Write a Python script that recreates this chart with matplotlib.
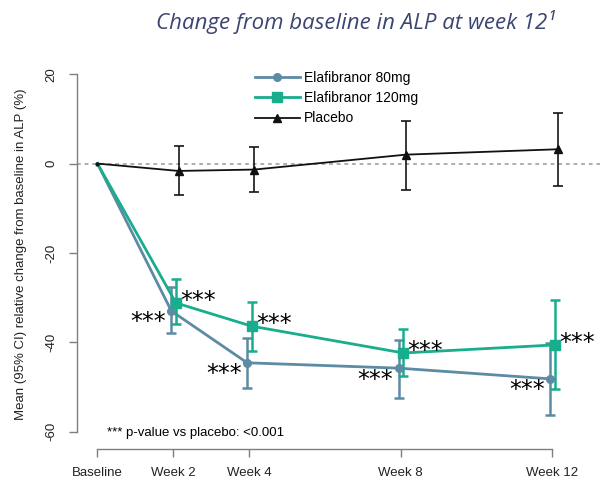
import numpy as np
import matplotlib
import matplotlib.pyplot as plt

matplotlib.use('Agg')

weeks = [0, 2, 4, 8, 12]
tick_labels = ["Baseline", "Week 2", "Week 4", "Week 8", "Week 12"]

ela80 = [0, -33.0, -44.6, -45.8, -48.2]
ela80_lo = [0, -37.9, -50.2, -52.5, -56.3]
ela80_hi = [0, -27.6, -39.0, -39.5, -40.1]

ela120 = [0, -31.2, -36.4, -42.4, -40.6]
ela120_lo = [0, -35.9, -41.9, -47.5, -50.4]
ela120_hi = [0, -25.9, -31.0, -37.0, -30.5]

placebo = [0, -1.65, -1.34, 2.0, 3.2]
placebo_lo = [0, -7.0, -6.3, -5.9, -5.1]
placebo_hi = [0, 3.9, 3.7, 9.5, 11.4]

c80 = '#5d8ba4'
c120 = '#18ad8c'
cpl = '#111111'
axis_grey = '#7f7f7f'

plt.rcParams['font.family'] = ['Liberation Sans', 'DejaVu Sans']

fig = plt.figure(figsize=(6.02, 4.82), dpi=100)
ax = fig.add_axes([77/602, 1 - 449/482, (600 - 77)/602, (449 - 59.5)/482])


def series(y, lo, hi, shift, color, marker, ms, lw, label):
    x = np.array(weeks, dtype=float)
    x[1:] += shift
    y = np.array(y)
    err = np.array([y - np.array(lo), np.array(hi) - y])
    ax.plot(x, y, color=color, lw=lw, zorder=3)
    ax.errorbar(x[1:], y[1:], yerr=err[:, 1:], fmt='none', ecolor=color,
                elinewidth=lw * 0.9, capsize=3.6, capthick=lw * 0.9, zorder=3)
    ax.plot(x[1:], y[1:], ls='none', marker=marker, ms=ms, color=color, zorder=4)
    ax.plot([], [], color=color, lw=lw, marker=marker, ms=ms, label=label)
    return x, y


x80, y80 = series(ela80, ela80_lo, ela80_hi, -0.05, c80, 'o', 5.5, 2.0, "Elafibranor 80mg")
x120, y120 = series(ela120, ela120_lo, ela120_hi, 0.07, c120, 's', 6.5, 2.0, "Elafibranor 120mg")
series(placebo, placebo_lo, placebo_hi, 0.14, cpl, '^', 6, 1.3, "Placebo")

ax.plot([weeks[0]], [0], marker='o', ms=2, color=cpl, zorder=5)
ax.axhline(0, color='#999999', ls=(0, (2.5, 2.5)), lw=1.1, zorder=1)

# asterisks sit high in the font, so offset the baseline down
for xi, yi in zip(x80[1:], y80[1:]):
    ax.annotate("***", (xi, yi), xytext=(-4, -13.3), textcoords='offset points',
                ha='right', va='baseline', fontsize=17, color='black',
                family='DejaVu Sans')
for xi, yi in zip(x120[1:], y120[1:]):
    ax.annotate("***", (xi, yi), xytext=(3, -3.3), textcoords='offset points',
                ha='left', va='baseline', fontsize=17, color='black',
                family='DejaVu Sans')

ax.text(0.25, -60.3, "*** p-value vs placebo: <0.001", fontsize=9.5,
        va='center', ha='left', color='black')

ax.set_xlim(-0.54, 13.26)
ax.set_ylim(-63.9, 23.3)

ax.set_xticks(weeks)
ax.set_xticklabels(tick_labels)
ax.set_yticks([20, 0, -20, -40, -60])
ax.set_yticklabels(["20", "0", "-20", "-40", "-60"], rotation=90, va='center')

for s in ['top', 'right']:
    ax.spines[s].set_visible(False)
ax.spines['left'].set_bounds(-60, 20)
ax.spines['bottom'].set_bounds(0, 12)
for s in ['left', 'bottom']:
    ax.spines[s].set_color(axis_grey)
    ax.spines[s].set_linewidth(1.0)
ax.tick_params(colors=axis_grey, labelcolor='#222222', labelsize=9.5,
               length=6, width=1.0)
ax.tick_params(axis='x', pad=7)
ax.tick_params(axis='y', pad=8)

ax.set_ylabel("Mean (95% CI) relative change from baseline in ALP (%)",
              fontsize=9.5, color='#222222', labelpad=13)

ax.legend(loc='upper left', bbox_to_anchor=(0.33, 0.985), frameon=False,
          fontsize=10, handlelength=3.2, handletextpad=0.3, labelspacing=0.45,
          borderaxespad=0)

fig.text(355/602, 1 - 22/482, "Change from baseline in ALP at week 12¹",
         family=['Open Sans', 'DejaVu Sans'], style='italic', fontsize=16,
         color='#3b4572', ha='center', va='center')

fig.savefig('out.png', dpi=100)
